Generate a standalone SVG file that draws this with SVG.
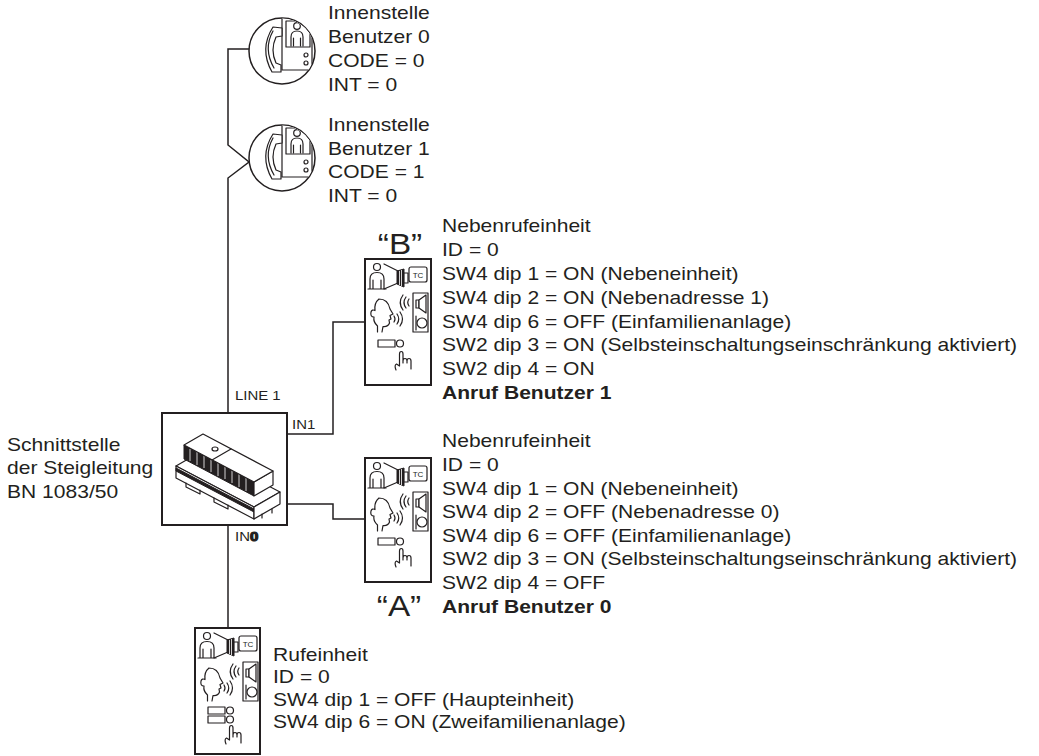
<svg xmlns="http://www.w3.org/2000/svg" width="1039" height="756" viewBox="0 0 1039 756">
<style>
.ln{fill:none;stroke:#231f20;stroke-width:1.5}
.t{font-family:"Liberation Sans",Arial,Helvetica,sans-serif;font-size:18px;fill:#231f20}
.b{font-weight:bold}
.s{font-size:13px}
.q{font-size:29px}
.ic{fill:none;stroke:#231f20;stroke-width:1.2;stroke-linejoin:round;stroke-linecap:round}
.icf{fill:#fff;stroke:#231f20;stroke-width:1.2;stroke-linejoin:round}
.dk{fill:#231f20;stroke:#231f20;stroke-width:1;stroke-linejoin:round}
.box{fill:#fff;stroke:#231f20;stroke-width:2}
.tc{font-family:"Liberation Sans",Arial,sans-serif;font-size:8px;fill:#231f20}
</style>
<defs>
  <clipPath id="pc"><circle r="32.5"/></clipPath>
  <g id="phone">
    <circle r="33" fill="#fff" stroke="#231f20" stroke-width="1.5"/>
    <g clip-path="url(#pc)">
      <rect x="0" y="-34" width="30" height="53" class="icf" stroke-width="1.4"/>
      <rect x="4" y="-30" width="24" height="26" class="icf"/>
      <circle cx="15" cy="-25" r="3.3" class="icf"/>
      <path class="ic" d="M9,-5 V-14 Q9,-20 15,-20 Q21,-20 21,-14 V-5 M11.5,-5 V-13 M18.5,-5 V-13"/>
      <circle cx="24" cy="4" r="2" class="icf"/>
      <circle cx="24" cy="12" r="2" class="icf"/>
    </g>
    <path class="icf" d="M0,-23 L-9,-24 Q-23,-2 -10,21 L-1,21 L-1,14 L-6,12 Q-12,-1 -6,-14 L0,-15 Z"/>
    <path class="ic" d="M-9,-20 Q-19,-2 -8,17"/>
  </g>
  <g id="ptop">
    <circle cx="12" cy="8" r="3.5" class="icf"/>
    <path class="ic" d="M5,30 V20 Q5,13.5 12,13.5 Q19,13.5 19,20 V30 M8,30 V21 M16,30 V21 M3,30 H21"/>
    <path class="ic" d="M19,5 L33,12 M19,30 L33,24"/>
    <polygon class="dk" points="32,12 39,10 39,28 32,25"/>
    <path d="M34.5,12 V26 M36.5,11 V27" stroke="#fff" stroke-width="0.8"/>
    <rect x="39" y="14" width="4" height="10" class="icf"/>
    <rect x="44" y="8" width="18" height="15" rx="2" class="icf"/>
    <text x="53" y="18.8" text-anchor="middle" class="tc">TC</text>
    <path class="ic" d="M14,40 Q23,40 25,50 L28,55 L25,56.5 L26,60 L24,61 L24.5,64 Q23,68 18,67.5 L17,73 M12.5,73 L12.5,67 Q8,63 9,58 Q5,58 6,53 Q7,50 10,51.5 Q9,44 14,40"/>
    <path class="ic" d="M29,57 Q31,60 29,63 M32,55 Q35.5,60 32,65 M35,53 Q40,60 35,67"/>
    <path class="ic" d="M44,40 Q41.5,43.5 44,47 M41,38 Q37,43.5 41,49 M38,36 Q32.5,43.5 38,51"/>
    <rect x="48" y="34" width="15" height="39" class="icf"/>
    <rect x="51" y="41" width="3" height="8" class="icf"/>
    <polygon class="icf" points="54,41 61,36 61,54 54,49"/>
    <path class="ic" d="M51,57 V71"/>
    <circle cx="57" cy="64" r="5" class="icf"/>
  </g>
  <path id="hand" class="ic" d="M31,111 Q29,106 31.5,105 L34.5,107 V95 Q34.5,92.5 36.3,92.5 Q38,92.5 38,95 V104 M38,102 Q38,99.5 40,99.5 Q42,99.5 42,102 V104 M42,102 Q42,99.5 44,99.5 Q46,99.5 46,102 V110"/>
</defs>

<g id="connectors" class="ln">
  <path d="M249,49 H228 V145 L249,162 L228,178 V413"/>
  <path d="M287,434 H333 V322 H365"/>
  <path d="M287,504 H333 V519 H365"/>
  <path d="M228,525 V628"/>
</g>

<g id="phone0">
  <use href="#phone" transform="translate(282,51)"/>
  <text class="t" transform="translate(328,0) scale(1.17,1)"><tspan x="0" y="19.5">Innenstelle</tspan><tspan x="0" y="43.2">Benutzer 0</tspan><tspan x="0" y="66.9">CODE = 0</tspan><tspan x="0" y="90.6">INT = 0</tspan></text>
</g>

<g id="phone1">
  <use href="#phone" transform="translate(282,158)"/>
  <text class="t" transform="translate(328,0) scale(1.17,1)"><tspan x="0" y="131">Innenstelle</tspan><tspan x="0" y="154.7">Benutzer 1</tspan><tspan x="0" y="178.4">CODE = 1</tspan><tspan x="0" y="202.1">INT = 0</tspan></text>
</g>

<g id="interface">
  <rect x="162" y="413" width="125" height="112" class="box" stroke-width="1.5"/>
  <polygon class="icf" points="176,466 254,507 280,492 202,451"/>
  <polygon class="icf" points="176,478 254,519 254,507 176,466"/>
  <polygon class="dk" points="176,468 254,509 254,512 176,471"/>
  <polygon class="icf" points="254,519 280,504 280,492 254,507"/>
  <path class="ic" d="M186,483 V487 L200,494 V490 M214,498 V502 L228,509 V505 M262,514 V518 M272,509 V513"/>
  <polygon class="dk" points="184,459 254,496 254,482 184,445"/>
  <path d="M190,449 V461 M197,452 V465 M204,456 V468 M211,460 V472 M218,463 V476 M225,467 V479 M232,471 V483 M239,474 V487 M246,478 V491" stroke="#fff" stroke-width="0.8"/>
  <polygon class="icf" points="254,496 273,485 273,471 254,482"/>
  <polygon class="icf" points="184,445 254,482 273,471 203,434"/>
  <path class="ic" d="M212,460 L231,449"/>
  <ellipse cx="215" cy="449" rx="3" ry="2" class="icf"/>
  <text class="t" transform="translate(7,0) scale(1.17,1)"><tspan x="0" y="451">Schnittstelle</tspan><tspan x="0" y="474.5">der Steigleitung</tspan><tspan x="0" y="498">BN 1083/50</tspan></text>
  <text class="t s" transform="translate(235,0) scale(1.15,1)" x="0" y="400">LINE 1</text>
  <text class="t s" transform="translate(292,0) scale(1.15,1)" x="0" y="429.5">IN1</text>
  <text class="t s" transform="translate(235,0) scale(1.15,1)" x="0" y="541.5">IN<tspan class="b" stroke="#231f20" stroke-width="1.2">0</tspan></text>
</g>

<g id="unitB">
  <rect x="365" y="259" width="66" height="126" class="box"/>
  <use href="#ptop" transform="translate(365,259)"/>
  <rect x="378" y="340" width="17" height="7" class="icf"/>
  <circle cx="400" cy="343.5" r="3.5" class="icf"/>
  <use href="#hand" transform="translate(365,259)"/>
  <text class="t q" text-anchor="middle" transform="translate(400,0) scale(1.15,1)" x="0" y="254">“B”</text>
  <text class="t" transform="translate(442,0) scale(1.17,1)"><tspan x="0" y="232.5">Nebenrufeinheit</tspan><tspan x="0" y="256.3">ID = 0</tspan><tspan x="0" y="280.1">SW4 dip 1 = ON (Nebeneinheit)</tspan><tspan x="0" y="303.9">SW4 dip 2 = ON (Nebenadresse 1)</tspan><tspan x="0" y="327.7">SW4 dip 6 = OFF (Einfamilienanlage)</tspan><tspan x="0" y="351.5">SW2 dip 3 = ON (Selbsteinschaltungseinschränkung aktiviert)</tspan><tspan x="0" y="375.3">SW2 dip 4 = ON</tspan><tspan x="0" y="399.1" class="b">Anruf Benutzer 1</tspan></text>
</g>

<g id="unitA">
  <rect x="365" y="458" width="66" height="124" class="box"/>
  <use href="#ptop" transform="translate(365,458)"/>
  <rect x="378" y="538" width="17" height="7" class="icf"/>
  <circle cx="400" cy="541.5" r="3.5" class="icf"/>
  <use href="#hand" transform="translate(365,456)"/>
  <text class="t q" text-anchor="middle" transform="translate(399,0) scale(1.15,1)" x="0" y="616">“A”</text>
  <text class="t" transform="translate(442,0) scale(1.17,1)"><tspan x="0" y="447.5">Nebenrufeinheit</tspan><tspan x="0" y="471.1">ID = 0</tspan><tspan x="0" y="494.7">SW4 dip 1 = ON (Nebeneinheit)</tspan><tspan x="0" y="518.3">SW4 dip 2 = OFF (Nebenadresse 0)</tspan><tspan x="0" y="541.9">SW4 dip 6 = OFF (Einfamilienanlage)</tspan><tspan x="0" y="565.5">SW2 dip 3 = ON (Selbsteinschaltungseinschränkung aktiviert)</tspan><tspan x="0" y="589.1">SW2 dip 4 = OFF</tspan><tspan x="0" y="612.7" class="b">Anruf Benutzer 0</tspan></text>
</g>

<g id="mainUnit">
  <rect x="195" y="628" width="65" height="126" class="box"/>
  <use href="#ptop" transform="translate(195,628)"/>
  <rect x="208" y="707" width="17" height="7" class="icf"/>
  <rect x="208" y="716" width="17" height="7" class="icf"/>
  <circle cx="230" cy="710.5" r="3.5" class="icf"/>
  <circle cx="230" cy="719.5" r="3.5" class="icf"/>
  <use href="#hand" transform="translate(195,633)"/>
  <text class="t" transform="translate(273,0) scale(1.17,1)"><tspan x="0" y="661">Rufeinheit</tspan><tspan x="0" y="683.5">ID = 0</tspan><tspan x="0" y="706">SW4 dip 1 = OFF (Haupteinheit)</tspan><tspan x="0" y="728.5">SW4 dip 6 = ON (Zweifamilienanlage)</tspan></text>
</g>
</svg>
